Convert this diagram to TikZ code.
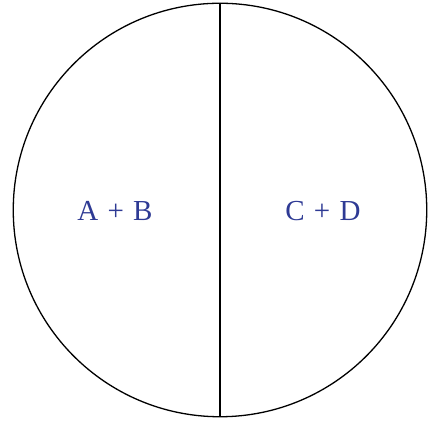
\documentclass[tikz,border=0pt]{standalone}
\usepackage{fontspec}
\setmainfont{Liberation Serif}
\definecolor{labelblue}{RGB}{46,58,148}
\begin{document}
\begin{tikzpicture}[x=1pt,y=1pt,
  outline/.style={draw=black,line width=1.3pt},
  lbl/.style={text=labelblue,font=\fontsize{29}{34}\selectfont,inner sep=0pt}]
\useasboundingbox (0,0) rectangle (429,422);
\node[outline,circle,minimum size=413.5pt,inner sep=0pt] (c) at (220,212) {};
\draw[outline,line width=1.2pt] (c.north) -- (c.south);
\node[lbl] (ab) at (115,211) {A\hspace{2pt} + \hspace{2pt}B};
\node[lbl] (cd) at (323,211) {C\hspace{2pt} + \hspace{2pt}D};
\end{tikzpicture}
\end{document}
